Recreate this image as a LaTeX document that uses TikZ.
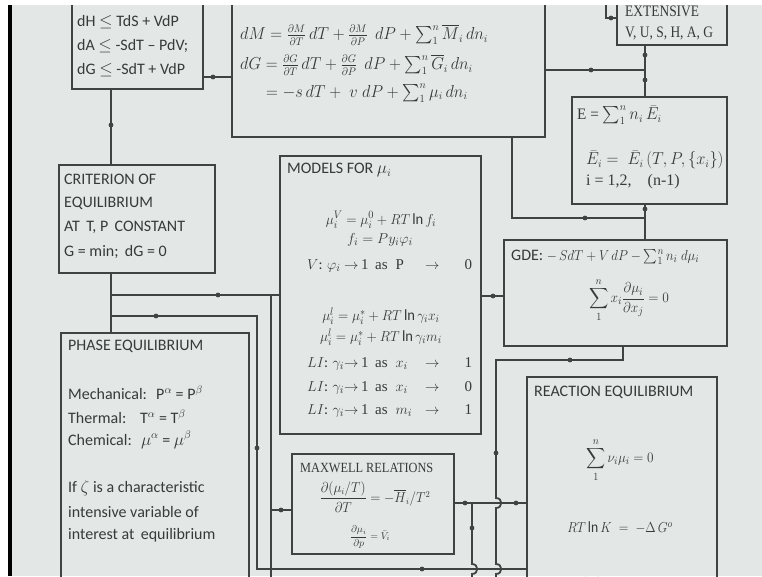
\documentclass[tikz,border=0pt]{standalone}
\usepackage{fontspec}
\usepackage{amsmath}
\usepackage{graphicx}
\setmainfont{Carlito}
\newfontfamily\tms{Liberation Serif}
\definecolor{bg}{HTML}{E3E7E6}
\definecolor{ln}{HTML}{3F4443}
\definecolor{tc}{HTML}{363B3A}
\newcommand\fs{\fontsize{16}{20}\selectfont}
\newcommand\fsz[1]{\fontsize{#1}{#1}\selectfont}
\newcommand\sx[2]{\scalebox{#1}[1]{#2}}
\newcommand\lirow[3]{\makebox[37pt][l]{#1}\makebox[31pt][l]{$\rightarrow$\,\tms 1}\makebox[44pt][l]{\tms as\; #2}\makebox[26pt][c]{$\rightarrow$}\makebox[27pt][r]{\tms #3}}
\begin{document}
\begin{tikzpicture}[x=1pt,y=-1pt,
  box/.style={draw=ln, line width=1.8pt, rectangle, inner sep=0pt, outer sep=0pt, anchor=north west},
  wire/.style={draw=ln, line width=1.8pt},
  tx/.style={inner sep=0pt, anchor=west, text=tc, font=\fs},
  tc/.style={inner sep=0pt, anchor=center, text=tc, font=\fs}]
\useasboundingbox (0,0) rectangle (762,576);
\fill[white] (0,0) rectangle (762,576);
\fill[bg] (12,5) rectangle (762,576);
\fill[black] (8,5) rectangle (12,576);
\begin{scope}
\clip (12,5) rectangle (762,576);
% boxes
\node[box, minimum width=131pt, minimum height=99pt] (A) at (72,-10) {};
\node[box, minimum width=313pt, minimum height=147pt] (B) at (232,-10) {};
\node[box, minimum width=110pt, minimum height=55pt] (C) at (617,-10) {};
\node[box, minimum width=156pt, minimum height=108pt] (D) at (59,165) {};
\node[box, minimum width=155pt, minimum height=107pt] (E) at (572,97) {};
\node[box, minimum width=201pt, minimum height=278pt] (M) at (280,156) {};
\node[box, minimum width=223pt, minimum height=106pt] (G) at (504,240) {};
\node[box, minimum width=188pt, minimum height=267pt] (P) at (61,333) {};
\node[box, minimum width=162pt, minimum height=100pt] (X) at (292,454) {};
\node[box, minimum width=190pt, minimum height=223pt] (R) at (527,377) {};
% coordinates
\coordinate (xa) at (111,0);
\coordinate (yA) at (0,77);
\coordinate (c3top) at (606,-10);
\coordinate (y3) at (0,18);
\coordinate (xe) at (645,0);
\coordinate (jB) at (645,70);
\coordinate (xb) at (512,0);
\coordinate (jE) at (645,218);
\coordinate (j9) at (111,295);
\coordinate (j10) at (271,295);
\coordinate (b10) at (271,590);
\coordinate (j11) at (271,510);
\coordinate (j12) at (111,316);
\coordinate (c12) at (257,569);
\coordinate (y13) at (0,296);
\coordinate (x14) at (623,0);
\coordinate (k14) at (496,360);
\coordinate (y15) at (0,503);
\coordinate (k16) at (472,503);
% connectors
\draw[wire] (A.south -| xa) -- (D.north -| xa);
\draw[wire] (A.east |- yA) -- (B.west |- yA);
\draw[wire] (c3top) |- (C.west |- y3);
\draw[wire] (C.south -| xe) -- (E.north -| xe);
\draw[wire] (B.east |- jB) -- (jB);
\draw[wire] (B.south -| xb) |- (jE);
\draw[wire] (E.south -| xe) -- (G.north -| xe);
\draw[wire] (D.south -| xa) -- (P.north -| xa);
\draw[wire] (j9) -- (M.west |- j9);
\draw[wire] (j10) -- (b10);
\draw[wire] (j11) -- (X.west |- j11);
\draw[wire] (j12) -| (c12) -- (R.west |- c12);
\draw[wire] (M.east |- y13) -- (G.west |- y13);
\draw[wire] (G.south -| x14) |- (k14) -- (496,498) .. controls (503,498) and (503,508) .. (496,508) -- (496,564) .. controls (503,564) and (503,574) .. (496,574) -- (496,590);
\draw[wire] (X.east |- y15) -- (R.west |- y15);
\draw[wire] (k16) -- (472,564) .. controls (479,564) and (479,574) .. (472,574) -- (472,590);
% dots
\foreach \p in {(111,125),(213,77),(611,18),(645,55),(645,80),(591,70),(585,218),(645,209),(218,295),(281,510),(156,316),(257,448),(422,569),(493,296),(570,360),(496,453),(465,503),(516,503),(472,528)}
  \fill[ln] \p circle (2.4);
% texts box A
\node[tx] (a1) at (77,22) {dH $\leq$ TdS + VdP};
\node[tx] (a2) at (77,46) {dA $\leq$ -SdT -- PdV;};
\node[tx] (a3) at (77,70) {dG $\leq$ -SdT + VdP};
% box B
\node[tx, font=\fsz{16}] (b1) at (240,35) {\sx{0.95}{$dM = \frac{\partial M}{\partial T}\,dT + \frac{\partial M}{\partial P}\;\,dP + \sum_1^n \overline{M}_i\,dn_i$}};
\node[tx, font=\fsz{16}] (b2) at (240,65) {\sx{0.95}{$dG = \frac{\partial G}{\partial T}\,dT + \frac{\partial G}{\partial P}\;\,dP + \sum_1^n \overline{G}_i\,dn_i$}};
\node[tx, font=\fsz{16}] (b3) at (266,93) {\sx{0.95}{$= -s\,dT + \;v\;dP + \sum_1^n \mu_i\,dn_i$}};
% box C
\node[tx, font=\fsz{16}\tms] (c1) at (625,11) {\sx{0.84}{EXTENSIVE}};
\node[tx, font=\fsz{16}\tms] (c2) at (625,33) {\sx{0.84}{V, U, S, H, A, G}};
% box E
\node[tx, font=\fsz{16}\tms] (e1) at (577,115) {\sx{0.95}{E = $\sum_1^n n_i\,\bar{E}_i$}};
\node[tx, font=\fsz{16}\tms] (e2) at (586,160) {\sx{0.95}{$\bar{E}_i = \;\bar{E}_i\,(T, P, \{x_i\})$}};
\node[tx, font=\fsz{16}\tms] (e3) at (586,182) {i = 1,2,\quad (n-1)};
% box D
\node[tx] (d1) at (64,179) {CRITERION OF};
\node[tx] (d2) at (64,203) {EQUILIBRIUM};
\node[tx] (d3) at (64,227) {AT\, T, P\, CONSTANT};
\node[tx] (d4) at (64,252) {G = min;\, dG = 0};
% models
\node[tx] (m0) at (287,170) {MODELS FOR $\mu_i$};
\node[tc, font=\fsz{15.5}] (m1) at (381,220) {\sx{0.94}{$\mu_i^V = \mu_i^0 + RT\ln f_i$}};
\node[tc, font=\fsz{15.5}] (m2) at (380,240) {$f_i = P y_i \varphi_i$};
\node[tx, font=\fsz{15}] (m3) at (307,266) {\lirow{$V$: $\varphi_i$}{P}{0}};
\node[tc, font=\fsz{15.5}] (m4) at (381,316) {\sx{0.94}{$\mu_i^l = \mu_i^* + RT\ln\gamma_i x_i$}};
\node[tc, font=\fsz{15.5}] (m5) at (381,337) {\sx{0.94}{$\mu_i^l = \mu_i^* + RT\ln\gamma_i m_i$}};
\node[tx, font=\fsz{15}] (m6) at (307,364) {\lirow{$LI$: $\gamma_i$}{$x_i$}{1}};
\node[tx, font=\fsz{15}] (m7) at (307,388) {\lirow{$LI$: $\gamma_i$}{$x_i$}{0}};
\node[tx, font=\fsz{15}] (m8) at (307,411) {\lirow{$LI$: $\gamma_i$}{$m_i$}{1}};
% GDE
\node[tx] (g1) at (511,257) {GDE: {\fsz{15}\sx{0.9}{$-\,SdT + V\,dP - \sum_1^n n_i\;d\mu_i$}}};
\node[tc, font=\fsz{15}] (g2) at (629,300) {\sx{0.93}{$\displaystyle\sum_1^n x_i\frac{\partial\mu_i}{\partial x_j} = 0$}};
% phase
\node[tx] (p1) at (68,346) {PHASE EQUILIBRIUM};
\node[tx] (p2) at (68,393) {Mechanical:\; P\textsuperscript{$\alpha$} = P\textsuperscript{$\beta$}};
\node[tx] (p3) at (68,417) {Thermal:\;\; T\textsuperscript{$\alpha$} = T\textsuperscript{$\beta$}};
\node[tx] (p4) at (68,440) {Chemical:\; $\mu$\textsuperscript{$\alpha$} = $\mu$\textsuperscript{$\beta$}};
\node[tx] (p5) at (68,488) {If $\zeta$ is a characteristic};
\node[tx] (p6) at (68,512) {intensive variable of};
\node[tx] (p7) at (68,535) {interest at\, equilibrium};
% maxwell
\node[tx, font=\fsz{14}\tms] (x1) at (300,468) {\sx{0.88}{MAXWELL RELATIONS}};
\node[tc, font=\fsz{13.5}] (x2) at (375,497) {\sx{0.92}{$\dfrac{\partial(\mu_i/T)}{\partial T} = -\overline{H}_i/T^2$}};
\node[tc, font=\fsz{10}] (x3) at (370,537) {$\dfrac{\partial\mu_i}{\partial p} = \bar{V}_i$};
% reaction
\node[tx] (r1) at (534,392) {REACTION EQUILIBRIUM};
\node[tc, font=\fsz{15.5}] (r2) at (620,460) {\sx{0.92}{$\displaystyle\sum_1^n \nu_i\mu_i = 0$}};
\node[tc, font=\fsz{15.5}] (r3) at (620,528) {\sx{0.88}{$RT\ln K \;=\; -\Delta\,G^o$}};
\node[tc, font=\fsz{15}] (r4) at (594,583) {$\Delta G^o$};
\end{scope}
\end{tikzpicture}
\end{document}
